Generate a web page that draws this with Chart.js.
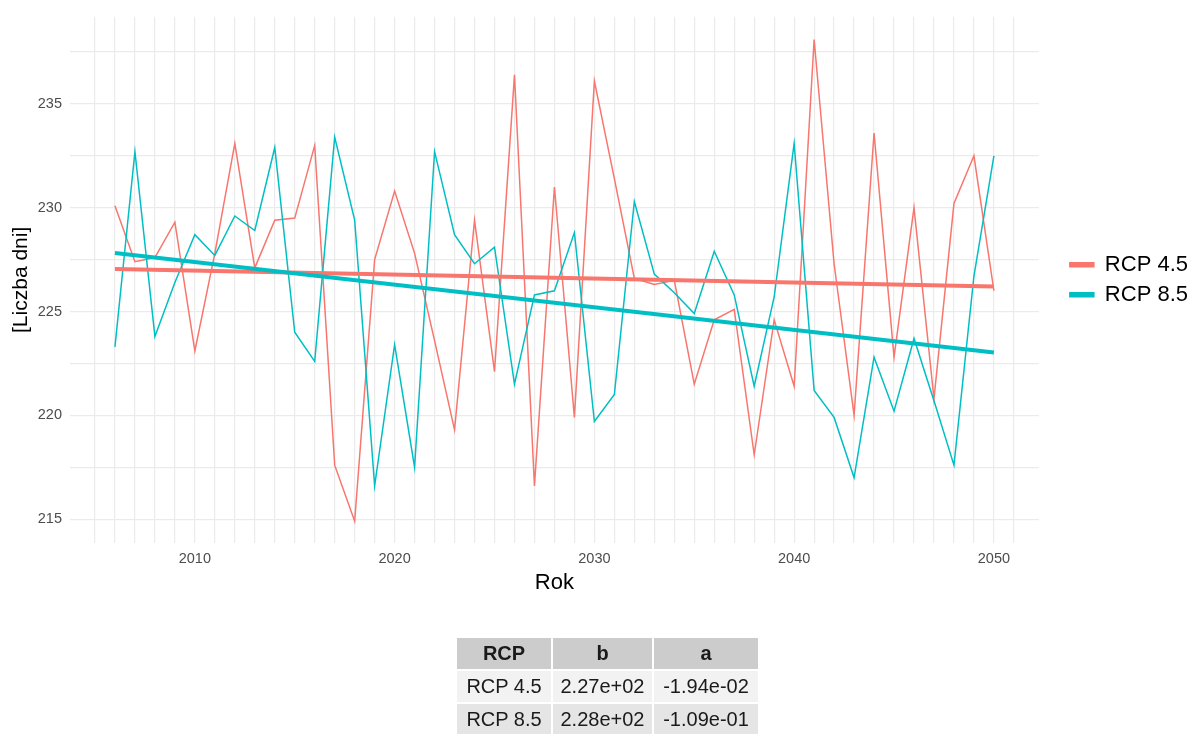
<!DOCTYPE html>
<html>
<head>
<meta charset="utf-8">
<script src="https://cdn.jsdelivr.net/npm/chart.js@4.4.0/dist/chart.umd.min.js"></script>
<style>
  body { margin: 0; background: #fff; }
  #wrap { position: relative; width: 1198px; height: 734px; overflow: hidden; }
  #tab {
    position: absolute; left: 455px; top: 636px;
    border-collapse: separate; border-spacing: 2px;
    font-family: 'Liberation Sans', Arial, sans-serif; font-size: 20px; color: #1a1a1a;
  }
  #tab td, #tab th { padding: 0; text-align: center; height: 31px; line-height: 31px; }
  #tab th { background: #cccccc; font-weight: bold; }
  #tab tr.r1 td { background: #f2f2f2; }
  #tab tr.r2 td { background: #e5e5e5; }
</style>
</head>
<body>
<div id="wrap">
  <canvas id="rcpChart" width="1198" height="734"></canvas>
  <table id="tab"></table>
</div>
<script>
// years of the series
var years = [2006, 2007, 2008, 2009, 2010, 2011, 2012, 2013, 2014, 2015,
  2016, 2017, 2018, 2019, 2020, 2021, 2022, 2023, 2024, 2025,
  2026, 2027, 2028, 2029, 2030, 2031, 2032, 2033, 2034, 2035,
  2036, 2037, 2038, 2039, 2040, 2041, 2042, 2043, 2044, 2045,
  2046, 2047, 2048, 2049, 2050];

// number of days
var rcp45 = [230.1, 227.4, 227.6, 229.3, 223.1, 227.8, 233.1, 227.1, 229.4, 229.5,
  233.0, 217.6, 214.9, 227.5, 230.8, 227.8, 223.6, 219.3, 229.4, 222.1,
  236.4, 216.6, 231.0, 219.9, 236.1, 231.4, 226.6, 226.3, 226.5, 221.5,
  224.6, 225.1, 218.1, 224.6, 221.4, 238.1, 227.3, 220.0, 233.6, 222.8,
  230.0, 220.8, 230.2, 232.5, 226.0];
var rcp85 = [223.3, 232.7, 223.8, 226.4, 228.7, 227.7, 229.6, 228.9, 232.9, 224.0,
  222.6, 233.4, 229.4, 216.6, 223.4, 217.5, 232.7, 228.7, 227.3, 228.1,
  221.5, 225.8, 226.0, 228.8, 219.7, 221.0, 230.3, 226.8, 225.9, 224.9,
  227.9, 225.8, 221.4, 225.7, 233.1, 221.2, 219.9, 217.0, 222.8, 220.2,
  223.7, 220.7, 217.6, 226.7, 232.5];

// linear trend, start and end
var trendYears = [2006, 2050];
var trend45 = [227.05, 226.2];
var trend85 = [227.82, 223.03];

var xTickLabels = [2010, 2020, 2030, 2040, 2050];
var yTickLabels = [215, 220, 225, 230, 235];

// coefficient table
var tableHeader = ['RCP', 'b', 'a'];
var tableRows = [
  ['RCP 4.5', '2.27e+02', '-1.94e-02'],
  ['RCP 8.5', '2.28e+02', '-1.09e-01']
];

var red = '#F8766D';
var cyan = '#00BFC4';
var fontFamily = "'Liberation Sans', Arial, sans-serif";

function toPoints(xs, ys) {
  return xs.map(function (x, i) { return { x: x, y: ys[i] }; });
}

var config = {
  type: 'line',
  data: {
    datasets: [
      { label: 'RCP 4.5', data: toPoints(years, rcp45), borderColor: red, backgroundColor: red,
        borderWidth: 1.5, pointRadius: 0, tension: 0, order: 4 },
      { label: 'RCP 8.5', data: toPoints(years, rcp85), borderColor: cyan, backgroundColor: cyan,
        borderWidth: 1.5, pointRadius: 0, tension: 0, order: 3 },
      { label: 'trend 4.5', data: toPoints(trendYears, trend45), borderColor: red, backgroundColor: red,
        borderWidth: 4, pointRadius: 0, order: 2 },
      { label: 'trend 8.5', data: toPoints(trendYears, trend85), borderColor: cyan, backgroundColor: cyan,
        borderWidth: 4, pointRadius: 0, order: 1 }
    ]
  },
  options: {
    responsive: false,
    animation: false,
    layout: { padding: { left: 0, top: 12, right: 0, bottom: 136 } },
    plugins: {
      tooltip: { enabled: false },
      legend: {
        position: 'right',
        align: 'center',
        fullSize: false,
        labels: {
          boxWidth: 24, boxHeight: 4, padding: 8, color: '#000',
          font: { size: 22, family: fontFamily },
          filter: function (item) { return item.datasetIndex < 2; },
          sort: function (a, b) { return a.datasetIndex - b.datasetIndex; }
        }
      }
    },
    scales: {
      x: {
        type: 'linear', min: 2003.75, max: 2052.25,
        afterBuildTicks: function (s) {
          var t = [];
          for (var v = 2005; v <= 2051; v++) t.push({ value: v });
          s.ticks = t;
        },
        afterFit: function (s) { s.height = 55; },
        grid: { color: '#ebebeb', lineWidth: 1.2, drawTicks: false },
        border: { display: false },
        ticks: {
          autoSkip: false, maxRotation: 0, padding: 7, color: '#4d4d4d',
          font: { size: 14.5, family: fontFamily },
          callback: function (v) { return xTickLabels.indexOf(v) >= 0 ? String(v) : ''; }
        },
        title: { display: true, text: 'Rok', color: '#000', font: { size: 22, family: fontFamily },
          padding: { top: 0, bottom: 2 } }
      },
      y: {
        min: 213.85, max: 239.2,
        afterBuildTicks: function (s) {
          var t = [];
          for (var i = 0; i < 10; i++) t.push({ value: 215 + i * 2.5 });
          s.ticks = t;
        },
        afterFit: function (s) { s.width = 70; },
        grid: { color: '#ebebeb', lineWidth: 1.2, drawTicks: false },
        border: { display: false },
        ticks: {
          padding: 8, color: '#4d4d4d', font: { size: 14.5, family: fontFamily },
          callback: function (v) { return yTickLabels.indexOf(v) >= 0 ? String(v) : ''; }
        },
        title: { display: true, text: '[Liczba dni]', color: '#000', font: { size: 21, family: fontFamily },
          padding: { top: 9, bottom: 0 } }
      },
      // empty axis only to leave room between panel and legend
      yR: {
        type: 'linear', position: 'right', display: true,
        grid: { display: false }, border: { display: false }, ticks: { display: false },
        afterFit: function (s) { s.width = 23; }
      }
    }
  }
};

var ctx = document.getElementById('rcpChart').getContext('2d');
window.rcpChart = new Chart(ctx, config);

// table below the chart
var tab = document.getElementById('tab');
var html = '<tr>' + tableHeader.map(function (h, i) {
  var w = [94, 99, 104][i];
  return '<th style="width:' + w + 'px">' + h + '</th>';
}).join('') + '</tr>';
tableRows.forEach(function (row, r) {
  html += '<tr class="r' + (r + 1) + '">' + row.map(function (c) { return '<td>' + c + '</td>'; }).join('') + '</tr>';
});
tab.innerHTML = html;
</script>
</body>
</html>
